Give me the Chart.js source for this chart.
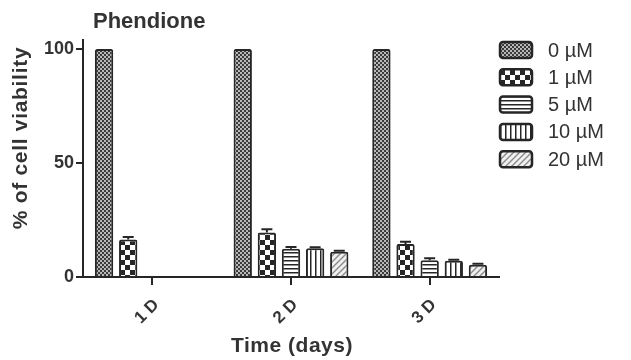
<!DOCTYPE html>
<html>
<head>
<meta charset="utf-8">
<script src="https://cdn.jsdelivr.net/npm/chart.js@4/dist/chart.umd.min.js"></script>
<style>
  html, body { margin: 0; padding: 0; background: #fff; }
  #wrap { width: 631px; height: 360px; }
</style>
</head>
<body>
<div id="wrap"><canvas id="chart" width="631" height="360"></canvas></div>
<script>
// Viability (% of control) per day, one array per dose
const days = ['1 D', '2 D', '3 D'];
const doses = ['0 µM', '1 µM', '5 µM', '10 µM', '20 µM'];
const dose0 = [100, 100, 100];
const dose1 = [16.5, 19.5, 14.5];
const dose5 = [null, 12.4, 7.4];
const dose10 = [null, 12.6, 7.1];
const dose20 = [null, 11.1, 5.4];
// SEM for each bar
const err0 = [0, 0, 0];
const err1 = [1.1, 1.4, 1.0];
const err5 = [null, 0.8, 0.8];
const err10 = [null, 0.5, 0.5];
const err20 = [null, 0.4, 0.4];
const yTicks = [0, 50, 100];

const INK = '#262626';
const TEXT = '#333333';
const FONT = '"Liberation Sans", Arial, sans-serif';

function makePattern(kind) {
  const c = document.createElement('canvas');
  const s = { dots: 4, checker: 10, hlines: 4, vlines: 5, diag: 6 }[kind];
  c.width = s; c.height = s;
  const g = c.getContext('2d');
  if (kind === 'dots') {
    g.fillStyle = '#3a3a3a'; g.fillRect(0, 0, s, s);
    g.fillStyle = '#b8b8b8';
    g.fillRect(0, 0, 2, 2); g.fillRect(2, 2, 2, 2);
  } else if (kind === 'checker') {
    g.fillStyle = '#ffffff'; g.fillRect(0, 0, s, s);
    g.fillStyle = INK;
    g.fillRect(0, 0, 5, 5); g.fillRect(5, 5, 5, 5);
  } else if (kind === 'hlines') {
    g.fillStyle = '#ffffff'; g.fillRect(0, 0, s, s);
    g.fillStyle = INK; g.fillRect(0, 0, s, 1.5);
  } else if (kind === 'vlines') {
    g.fillStyle = '#ffffff'; g.fillRect(0, 0, s, s);
    g.fillStyle = INK; g.fillRect(0, 0, 1.5, s);
  } else {
    g.fillStyle = '#f0f0f0'; g.fillRect(0, 0, s, s);
    g.strokeStyle = '#8a8a8a'; g.lineWidth = 1.4;
    g.beginPath();
    g.moveTo(0, s); g.lineTo(s, 0);
    g.moveTo(-1, 1); g.lineTo(1, -1);
    g.moveTo(s - 1, s + 1); g.lineTo(s + 1, s - 1);
    g.stroke();
  }
  return g.createPattern(c, 'repeat');
}

const fills = ['dots', 'checker', 'hlines', 'vlines', 'diag'].map(makePattern);
const values = [dose0, dose1, dose5, dose10, dose20];
const errors = [err0, err1, err5, err10, err20];

const datasets = values.map((v, i) => ({
  label: doses[i],
  data: v,
  backgroundColor: fills[i],
  borderColor: INK,
  borderWidth: 2,
  borderRadius: 2,
  borderSkipped: 'bottom'
}));

// error bars, titles and legend drawn on top of the bars
const extras = {
  id: 'extras',
  afterDatasetsDraw(chart) {
    const ctx = chart.ctx;
    const y = chart.scales.y;
    ctx.save();
    ctx.strokeStyle = INK;
    ctx.lineWidth = 2;
    values.forEach((v, i) => {
      chart.getDatasetMeta(i).data.forEach((bar, j) => {
        const e = errors[i][j];
        if (v[j] == null || !e) return;
        const top = y.getPixelForValue(v[j] + e);
        const half = bar.width * 0.3;
        ctx.beginPath();
        ctx.moveTo(bar.x, bar.y);
        ctx.lineTo(bar.x, top);
        ctx.moveTo(bar.x - half, top);
        ctx.lineTo(bar.x + half, top);
        ctx.stroke();
      });
    });
    ctx.restore();
  },
  afterDraw(chart) {
    const ctx = chart.ctx;
    ctx.save();
    ctx.fillStyle = TEXT;

    ctx.font = 'bold 22px ' + FONT;
    ctx.textAlign = 'left';
    ctx.textBaseline = 'alphabetic';
    ctx.fillText('Phendione', 93, 28);

    ctx.font = 'bold 21px ' + FONT;
    ctx.letterSpacing = '0.5px';
    ctx.textAlign = 'center';
    ctx.textBaseline = 'middle';
    ctx.fillText('Time (days)', 292, 346);

    ctx.save();
    ctx.translate(21, 138);
    ctx.rotate(-Math.PI / 2);
    ctx.letterSpacing = '0.7px';
    ctx.fillText('% of cell viability', 0, 0);
    ctx.restore();

    ctx.letterSpacing = '0px';
    ctx.font = '20px ' + FONT;
    ctx.textAlign = 'left';
    doses.forEach((d, i) => {
      const cy = 50 + i * 27.3;
      ctx.beginPath();
      ctx.roundRect(500, cy - 8, 32, 16, 3);
      ctx.fillStyle = fills[i];
      ctx.fill();
      ctx.lineWidth = 2.5;
      ctx.strokeStyle = INK;
      ctx.stroke();
      ctx.fillStyle = TEXT;
      ctx.fillText(d, 548, cy + 1);
    });
    ctx.restore();
  }
};

new Chart(document.getElementById('chart'), {
  type: 'bar',
  data: { labels: days, datasets: datasets },
  options: {
    responsive: false,
    animation: false,
    layout: { padding: { top: 40, right: 132, left: 0, bottom: 0 } },
    datasets: { bar: { categoryPercentage: 0.87, barPercentage: 0.76 } },
    plugins: {
      legend: { display: false },
      title: { display: false },
      tooltip: { enabled: false }
    },
    scales: {
      x: {
        grid: { offset: false, drawOnChartArea: false, tickLength: 8, color: INK, lineWidth: 2 },
        border: { color: INK, width: 2 },
        ticks: {
          color: TEXT,
          font: { family: FONT, size: 17, weight: 'bold' },
          minRotation: 45,
          maxRotation: 45,
          labelOffset: 4,
          padding: 10
        },
        afterFit: s => { s.height = 83; }
      },
      y: {
        min: 0,
        max: 104,
        afterBuildTicks: s => { s.ticks = yTicks.map(v => ({ value: v })); },
        grid: { drawOnChartArea: false, tickLength: 7, color: INK, lineWidth: 2 },
        border: { color: INK, width: 2 },
        ticks: {
          color: TEXT,
          font: { family: FONT, size: 18, weight: 'bold' },
          padding: 2
        },
        afterFit: s => { s.width = 83; }
      }
    }
  },
  plugins: [extras]
});
</script>
</body>
</html>
